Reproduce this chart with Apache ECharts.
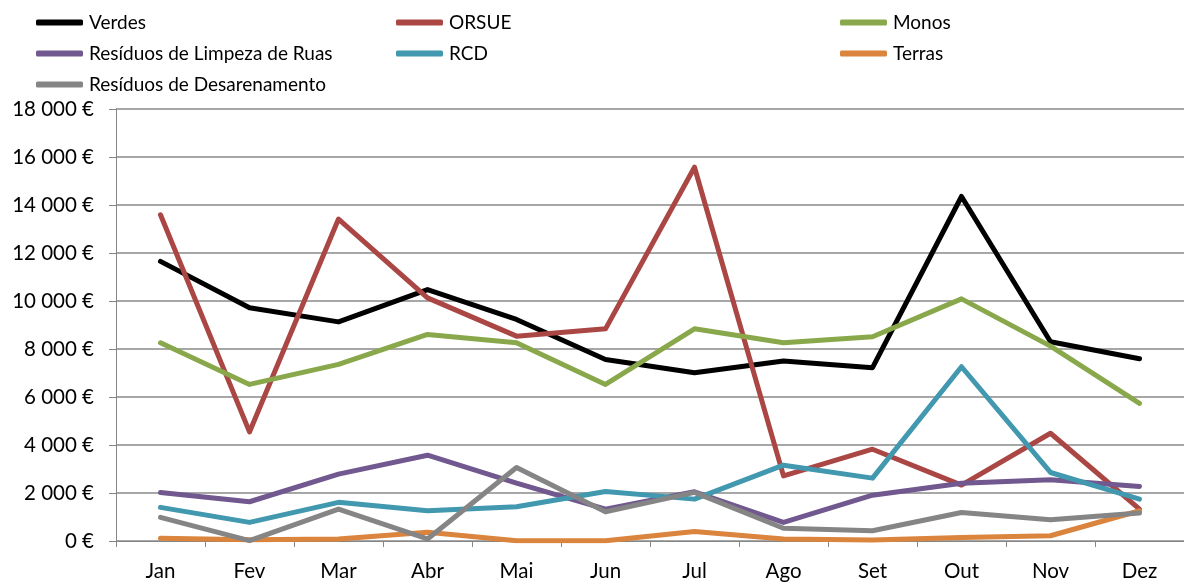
<!DOCTYPE html>
<html>
<head>
<meta charset="utf-8">
<script src="https://cdn.jsdelivr.net/npm/echarts@6/dist/echarts.min.js"></script>
<style>
html,body{margin:0;padding:0;background:#fff;}
#chart{width:1184px;height:582px;}
</style>
</head>
<body>
<div id="chart"></div>
<script>
const months = ["Jan","Fev","Mar","Abr","Mai","Jun","Jul","Ago","Set","Out","Nov","Dez"];
const verdes = [11650, 9715, 9130, 10475, 9230, 7565, 7010, 7500, 7220, 14355, 8300, 7595];
const orsue = [13595, 4545, 13415, 10130, 8535, 8840, 15575, 2715, 3825, 2330, 4490, 1330];
const monos = [8260, 6525, 7360, 8605, 8260, 6525, 8840, 8260, 8510, 10090, 8120, 5735];
const limpezaRuas = [2025, 1635, 2785, 3575, 2410, 1330, 2050, 775, 1910, 2410, 2550, 2275];
const rcd = [1400, 775, 1610, 1260, 1425, 2065, 1745, 3160, 2620, 7260, 2855, 1745];
const terras = [110, 55, 85, 360, 15, 15, 400, 85, 40, 150, 220, 1260];
const desarenamento = [985, 15, 1330, 85, 3065, 1220, 2025, 530, 430, 1190, 885, 1165];
const yMin = 0, yMax = 18000, yStep = 2000;

const FONT = 'Lato';
const chart = echarts.init(document.getElementById('chart'), null, {renderer:'canvas'});

function fmt(v){ return String(v).replace(/\B(?=(\d{3})+(?!\d))/g, ' ') + ' €'; }

function mk(name, data, color){
  return {name, type:'line', data, showSymbol:false, symbol:'none',
    lineStyle:{color, width:5, cap:'round', join:'round'}, itemStyle:{color},
    emphasis:{disabled:true}, silent:true, animation:false};
}
const legendBase = {
  orient:'vertical', padding:0, itemGap:0, itemWidth:47, itemHeight:6,
  icon:'roundRect', top:7,
  textStyle:{fontFamily:FONT, fontSize:19, color:'#000', lineHeight:31, padding:[0,0,0,1]},
  selectedMode:false
};

chart.setOption({
  animation:false,
  textStyle:{fontFamily:FONT},
  legend:[
    Object.assign({}, legendBase, {left:36, data:['Verdes','Resíduos de Limpeza de Ruas','Resíduos de Desarenamento']}),
    Object.assign({}, legendBase, {left:396, data:['ORSUE','RCD']}),
    Object.assign({}, legendBase, {left:840, data:['Monos','Terras']})
  ],
  grid:{left:116, top:109, right:-10, bottom:40, containLabel:false},
  xAxis:{type:'category', data:months, boundaryGap:true,
    axisLine:{lineStyle:{color:'#868686', width:1}},
    axisTick:{show:true, length:6, inside:false, lineStyle:{color:'#868686'}},
    axisLabel:{color:'#000', fontSize:20.5, fontFamily:FONT, margin:20, interval:0},
    splitLine:{show:false}},
  yAxis:{type:'value', min:yMin, max:yMax, interval:yStep,
    axisLine:{show:true, lineStyle:{color:'#868686', width:1}},
    axisTick:{show:true, length:7, lineStyle:{color:'#868686'}},
    axisLabel:{color:'#000', fontSize:20.5, fontFamily:FONT, margin:22, formatter:fmt},
    splitLine:{show:true, lineStyle:{color:'#8a8a8a', width:1.5}}},
  series:[
    mk('Verdes', verdes, '#000000'),
    mk('ORSUE', orsue, '#AA4643'),
    mk('Monos', monos, '#89A84B'),
    mk('Resíduos de Limpeza de Ruas', limpezaRuas, '#71588F'),
    mk('RCD', rcd, '#4198AF'),
    mk('Terras', terras, '#DB843D'),
    mk('Resíduos de Desarenamento', desarenamento, '#858585')
  ]
});
</script>
</body>
</html>
